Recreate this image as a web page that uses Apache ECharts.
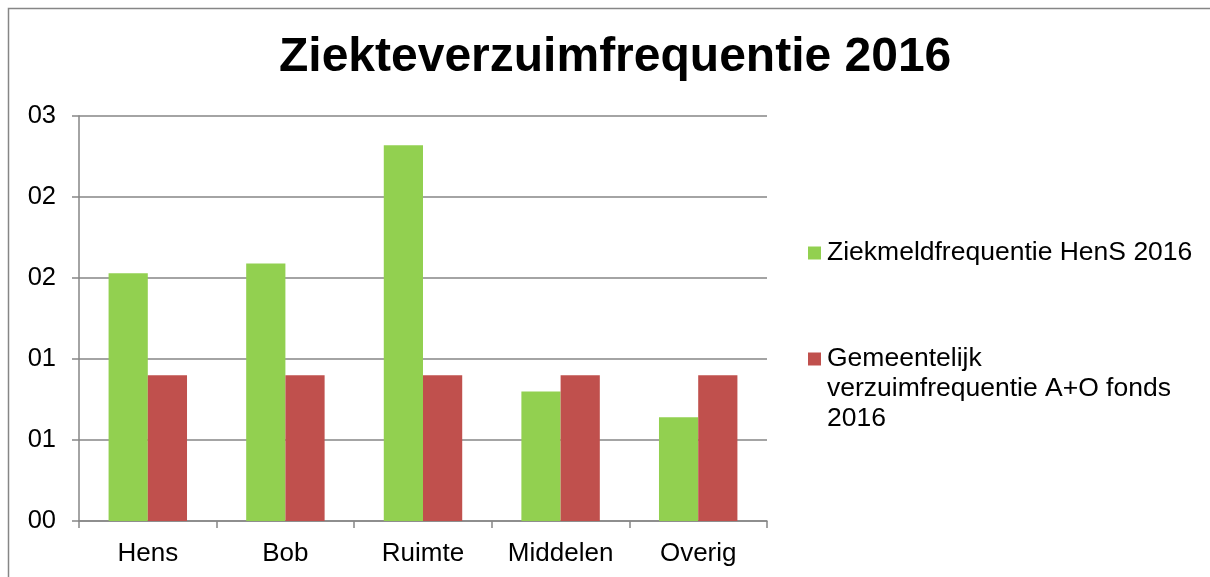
<!DOCTYPE html>
<html>
<head>
<meta charset="utf-8">
<script src="https://cdn.jsdelivr.net/npm/echarts@6/dist/echarts.min.js"></script>
<style>
html, body { margin: 0; padding: 0; background: #fff; }
#chart { width: 1210px; height: 577px; }
</style>
</head>
<body>
<div id="chart"></div>
<script>
const titleText = 'Ziekteverzuimfrequentie 2016';
const categories = ['Hens', 'Bob', 'Ruimte', 'Middelen', 'Overig'];
const seriesNames = ['Ziekmeldfrequentie HenS 2016', 'Gemeentelijk verzuimfrequentie A+O fonds 2016'];
const legendLabels = ['Ziekmeldfrequentie HenS 2016', '\n\nGemeentelijk\nverzuimfrequentie A+O fonds\n2016'];
const hensValues = [1.53, 1.59, 2.32, 0.80, 0.64];
const fondsValues = [0.90, 0.90, 0.90, 0.90, 0.90];
const yTickLabels = ['00', '01', '01', '02', '02', '03'];
const yMin = 0, yMax = 2.5, yStep = 0.5;

const FONT = '"Liberation Sans", Arial, sans-serif';
const GRAY = '#868686';

const chart = echarts.init(document.getElementById('chart'));
chart.setOption({
  animation: false,
  backgroundColor: '#ffffff',
  title: {
    text: titleText,
    left: 279,
    top: 34,
    padding: 0,
    textStyle: { fontFamily: FONT, fontSize: 48, fontWeight: 'bold', color: '#000' }
  },
  graphic: [{
    type: 'rect',
    shape: { x: 8.5, y: 8.5, width: 1230, height: 620 },
    style: { fill: 'none', stroke: GRAY, lineWidth: 1.5 },
    silent: true
  }],
  legend: {
    orient: 'vertical',
    left: 808,
    top: 238,
    padding: 0,
    itemWidth: 13,
    itemHeight: 13,
    itemGap: 16,
    icon: 'rect',
    data: seriesNames,
    formatter: function (name) { return legendLabels[seriesNames.indexOf(name)]; },
    textStyle: { fontFamily: FONT, fontSize: 26.5, lineHeight: 30, color: '#000', padding: [0, 0, 0, 1] }
  },
  grid: { left: 79, right: 443, top: 116, bottom: 56, containLabel: false },
  xAxis: {
    type: 'category',
    data: categories,
    axisLine: { show: true, lineStyle: { color: GRAY, width: 1.5 } },
    axisTick: { show: true, alignWithLabel: false, length: 7, lineStyle: { color: GRAY, width: 1.5 } },
    axisLabel: { margin: 20, fontFamily: FONT, fontSize: 26, color: '#000' },
    splitLine: { show: false }
  },
  yAxis: {
    type: 'value',
    min: yMin,
    max: yMax,
    interval: yStep,
    axisLine: { show: true, lineStyle: { color: GRAY, width: 1.5 } },
    axisTick: { show: true, length: 7, lineStyle: { color: GRAY, width: 1.5 } },
    axisLabel: {
      margin: 23,
      fontFamily: FONT, fontSize: 25.5, color: '#000',
      formatter: function (v) { return yTickLabels[Math.round((v - yMin) / yStep)]; }
    },
    splitLine: { show: true, lineStyle: { color: GRAY, width: 1.5 } }
  },
  series: [
    {
      name: seriesNames[0],
      type: 'bar',
      data: hensValues,
      itemStyle: { color: '#92D050' },
      barGap: '0%',
      barCategoryGap: '43%'
    },
    {
      name: seriesNames[1],
      type: 'bar',
      data: fondsValues,
      itemStyle: { color: '#C0504D' },
      barGap: '0%',
      barCategoryGap: '43%'
    }
  ]
});
</script>
</body>
</html>
